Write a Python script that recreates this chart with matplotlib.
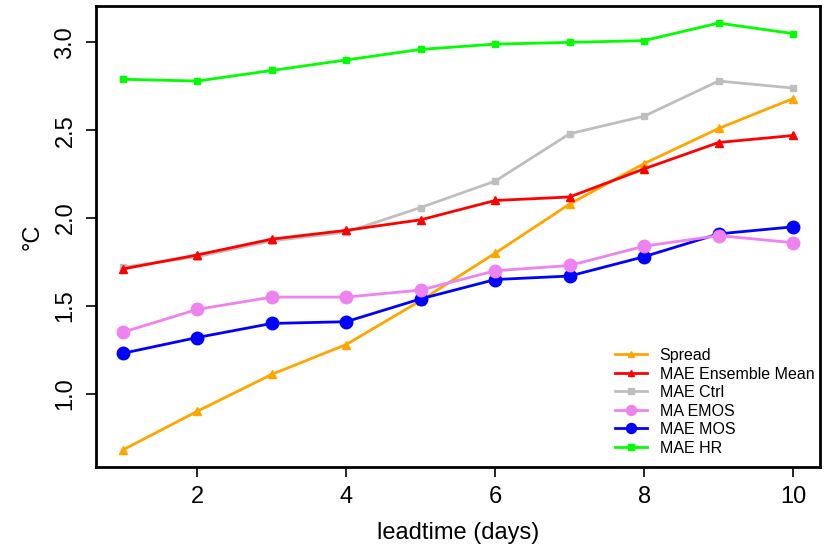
import numpy as np
import matplotlib.pyplot as plt

plt.rcParams['font.family'] = ['Liberation Sans', 'DejaVu Sans']

leadtime = np.arange(1, 11)
spread = [0.68, 0.90, 1.11, 1.28, 1.53, 1.80, 2.08, 2.31, 2.51, 2.68]
mae_ens_mean = [1.71, 1.79, 1.88, 1.93, 1.99, 2.10, 2.12, 2.28, 2.43, 2.47]
mae_ctrl = [1.72, 1.78, 1.87, 1.92, 2.06, 2.21, 2.48, 2.58, 2.78, 2.74]
ma_emos = [1.35, 1.48, 1.55, 1.55, 1.59, 1.70, 1.73, 1.84, 1.90, 1.86]
mae_mos = [1.23, 1.32, 1.40, 1.41, 1.54, 1.65, 1.67, 1.78, 1.91, 1.95]
mae_hr = [2.79, 2.78, 2.84, 2.90, 2.96, 2.99, 3.00, 3.01, 3.11, 3.05]

fig = plt.figure(figsize=(8.29, 5.47), dpi=100)
ax = fig.add_axes([0.1158, 0.1463, 0.8732, 0.8427])

lw = 2.0
h_spread, = ax.plot(leadtime, spread, color='#FFA500', lw=lw, marker='^', ms=6)
h_ctrl, = ax.plot(leadtime, mae_ctrl, color='#BEBEBE', lw=lw, marker='s', ms=5)
h_ens, = ax.plot(leadtime, mae_ens_mean, color='#FF0000', lw=lw, marker='^', ms=6)
h_mos, = ax.plot(leadtime, mae_mos, color='#0000FF', lw=lw, marker='o', ms=9)
h_emos, = ax.plot(leadtime, ma_emos, color='#EE82EE', lw=lw, marker='o', ms=9)
h_hr, = ax.plot(leadtime, mae_hr, color='#00FF00', lw=lw, marker='s', ms=5)

# R-style axis ranges (4% padding around the data)
ax.set_xlim(0.64, 10.36)
ax.set_ylim(0.583, 3.207)
ax.set_xticks([2, 4, 6, 8, 10])
ax.set_yticks([1.0, 1.5, 2.0, 2.5, 3.0])
ax.set_yticklabels(['1.0', '1.5', '2.0', '2.5', '3.0'], rotation=90, va='center')
ax.tick_params(axis='both', direction='out', length=7, width=1.2, labelsize=17, pad=7)
for s in ax.spines.values():
    s.set_linewidth(2.0)

ax.set_xlabel('leadtime (days)', fontsize=17, labelpad=10)
ax.set_ylabel('°C', fontsize=17, labelpad=8)

ax.legend([h_spread, h_ens, h_ctrl, h_emos, h_mos, h_hr],
          ['Spread', 'MAE Ensemble Mean', 'MAE Ctrl', 'MA EMOS', 'MAE MOS', 'MAE HR'],
          loc='lower right', bbox_to_anchor=(1.012, -0.0065), frameon=False,
          fontsize=11.5, handlelength=2.0, handletextpad=0.8, labelspacing=0.22,
          markerscale=0.8, borderaxespad=0.5)

plt.savefig('out.png', dpi=100)
